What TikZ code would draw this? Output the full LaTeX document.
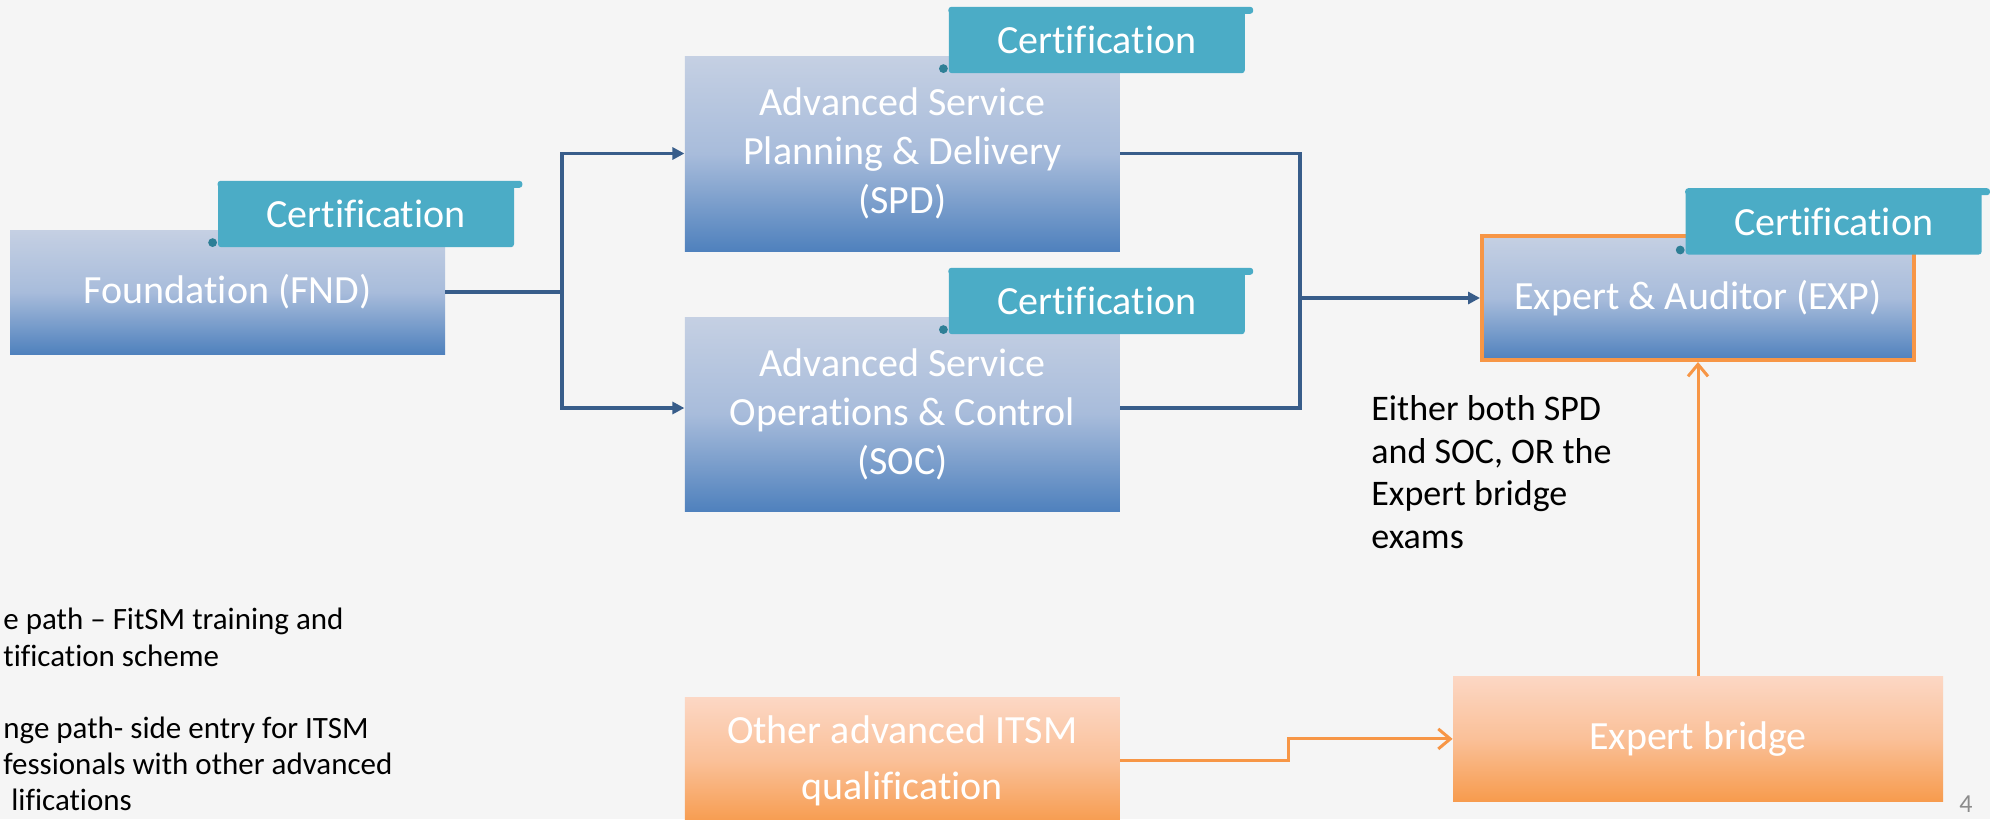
\documentclass[tikz,border=0pt]{standalone}
\usepackage{fontspec}
\setmainfont{Carlito}[Ligatures=NoCommon]
\usepackage{xcolor}
\usepackage{tikz}
\usetikzlibrary{positioning,arrows.meta}
\definecolor{bgcol}{RGB}{245,245,245}
\definecolor{boxtop}{RGB}{197,208,227}
\definecolor{boxmid}{RGB}{168,188,219}
\definecolor{boxbot}{RGB}{79,129,189}
\definecolor{peachtop}{RGB}{252,215,196}
\definecolor{peachmid}{RGB}{250,192,152}
\definecolor{peachbot}{RGB}{247,155,77}
\definecolor{tagcol}{RGB}{75,172,198}
\definecolor{tagdark}{RGB}{46,127,150}
\definecolor{linkblue}{RGB}{56,93,138}
\definecolor{orangeline}{RGB}{247,150,70}
\tikzset{
    stage/.style={
        rectangle,
        top color=boxtop,
        bottom color=boxbot,
        middle color=boxmid,
        text=white,
        align=center,
        inner sep=0pt,
        minimum width=217.5pt,
        minimum height=62pt,
        font=\fontsize{20}{24.5}\selectfont
    },
    sidestage/.style={
        stage,
        top color=peachtop,
        bottom color=peachbot,
        middle color=peachmid
    },
    note/.style={
        align=left,
        inner sep=0pt,
        anchor=west,
        text=black
    }
}
\tikzstyle{certtag} = [rectangle, fill=tagcol, text=white, minimum width=148pt, minimum height=33pt, rounded corners=1.5pt, anchor=south east, font=\fontsize{20}{24}\selectfont]
\tikzstyle{link} = [line width=1.6pt, draw=linkblue]
\tikzstyle{arrow} = [link, -{Triangle[length=6pt,width=6pt]}]
\tikzstyle{sidearrow} = [line width=1.5pt, draw=orangeline, -{Straight Barb[length=6pt,width=10pt]}]

\begin{document}
\begin{tikzpicture}[x=0.5pt,y=-0.5pt]
          \fill[bgcol] (0,0) rectangle (1990,819);
          \useasboundingbox (0,0) rectangle (1990,819);
          \clip (0,0) rectangle (1990,819);
          % main path
          \node (fnd) [stage] at (227.5,292) {Foundation (FND)};
          \node (spd) [stage, minimum height=97.5pt, right=119.5pt of fnd, yshift=69.25pt] {Advanced Service\\Planning \& Delivery\\(SPD)};
          \node (soc) [stage, minimum height=97pt, right=119.5pt of fnd, yshift=-61pt] {Advanced Service\\Operations \& Control\\(SOC)};
          \node (exp) [stage, draw=orangeline, line width=2pt, minimum width=216pt] at (1698,298) {Expert \& Auditor (EXP)};
          % side entry
          \node (other) [sidestage, minimum height=63pt, below=93pt of soc, font=\fontsize{20}{28}\selectfont] {Other advanced ITSM\\qualification};
          \node (bridge) [sidestage, minimum width=245pt, minimum height=62.5pt, below=157pt of exp] {Expert bridge};
          % certification tags
          \node (tfnd) [certtag] at ([xshift=34.5pt,yshift=-9pt]fnd.north east) {Certification};
          \node (tspd) [certtag] at ([xshift=62.5pt,yshift=-9pt]spd.north east) {Certification};
          \node (tsoc) [certtag] at ([xshift=62.5pt,yshift=-9pt]soc.north east) {Certification};
          \node (texp) [certtag] at ([xshift=33pt,yshift=-10.5pt]exp.north east) {Certification};
          \fill[tagcol, rounded corners=1.5pt] (tfnd.north west) rectangle ([xshift=4pt,yshift=-3.5pt]tfnd.north east);
          \fill[tagcol, rounded corners=1.5pt] (tspd.north west) rectangle ([xshift=4pt,yshift=-3.5pt]tspd.north east);
          \fill[tagcol, rounded corners=1.5pt] (tsoc.north west) rectangle ([xshift=4pt,yshift=-3.5pt]tsoc.north east);
          \fill[tagcol, rounded corners=1.5pt] (texp.north west) rectangle ([xshift=4pt,yshift=-3.5pt]texp.north east);
          \fill[tagdark] ([xshift=-2.5pt,yshift=2.5pt]tfnd.south west) circle (2.2pt);
          \fill[tagdark] ([xshift=-2.5pt,yshift=2.5pt]tspd.south west) circle (2.2pt);
          \fill[tagdark] ([xshift=-2.5pt,yshift=2.5pt]tsoc.south west) circle (2.2pt);
          \fill[tagdark] ([xshift=-2.5pt,yshift=2.5pt]texp.south west) circle (2.2pt);
          % texts
          \node (either) [note, font=\fontsize{18}{21.3}\selectfont] at (1371,472) {Either both SPD\\and SOC, OR the\\Expert bridge\\exams};
          \node (blue) [note, font=\fontsize{15.5}{18.5}\selectfont] at (3,637) {e path -- FitSM training and\\tification scheme};
          \node (orange) [note, font=\fontsize{15.5}{18}\selectfont] at (3,764) {nge path- side entry for ITSM\\fessionals with other advanced\\\hspace*{4pt}lifications};
          \node (page) [text=black!45, font=\fontsize{13}{13}\selectfont] at (1966,804) {4};
          % connectors
          \coordinate (split) at (562,292);
          \coordinate (merge) at (1300,298);
          \draw [link] (fnd.east) -- (split);
          \draw [arrow] (split) |- (spd.west);
          \draw [arrow] (split) |- ([yshift=3pt]soc.west);
          \draw [link] (spd.east) -| (merge);
          \draw [link] ([yshift=3pt]soc.east) -| (merge);
          \draw [arrow] (merge) -- (exp.west);
          \draw [sidearrow] (other.east) -- ++(84pt,0) |- (bridge.west);
          \draw [sidearrow] (bridge.north) -- (exp.south);
\end{tikzpicture}
\end{document}
